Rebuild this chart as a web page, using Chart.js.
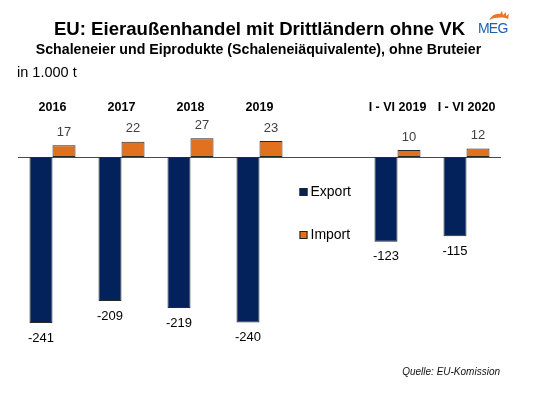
<!DOCTYPE html>
<html>
<head>
<meta charset="utf-8">
<script src="https://cdn.jsdelivr.net/npm/chart.js@4.4.1/dist/chart.umd.min.js"></script>
<style>
  html, body { margin: 0; padding: 0; background: #fff; }
  #wrap { position: relative; width: 540px; height: 398px; overflow: hidden; font-family: "Liberation Sans", Arial, sans-serif; }
  #c { position: absolute; left: 0; top: 0; }
  .t { position: absolute; white-space: nowrap; color: #000; }
  #title { left: 0; width: 519px; text-align: center; top: 18px; font-size: 18.6px; font-weight: bold; }
  #sub { left: 0; width: 517px; text-align: center; top: 41px; font-size: 14.2px; font-weight: bold; }
  #unit { left: 17px; top: 64px; font-size: 14.5px; }
  #src { right: 40px; top: 366px; font-size: 10px; font-style: italic; color: #111; }
  #logo { position: absolute; left: 477px; top: 8px; width: 40px; height: 30px; }
  #logo span { position: absolute; left: 1px; top: 12px; font-size: 14px; color: #1f5fae; font-family: "Liberation Sans", Arial, sans-serif; letter-spacing: -0.8px; }
</style>
</head>
<body>
<div id="wrap">
  <canvas id="c" width="540" height="398"></canvas>
  <div class="t" id="title">EU: Eieraußenhandel mit Drittländern ohne VK</div>
  <div class="t" id="sub">Schaleneier und Eiprodukte (Schaleneiäquivalente), ohne Bruteier</div>
  <div class="t" id="unit">in 1.000 t</div>
  <div class="t" id="src">Quelle: EU-Komission</div>
  <div id="logo">
    <svg width="40" height="14" style="position:absolute;left:0;top:0">
      <path d="M12 12 C15 7, 19 5, 23 6 L25 3 L26 7 L29 4 L29 8 L32 6 L31 11 C26 9, 19 9, 12 12 Z" fill="#e8772a"/>
    </svg>
    <span>MEG</span>
  </div>
</div>
<script>
const categories = ["2016", "2017", "2018", "2019", "", "I - VI 2019", "I - VI 2020"];
const exportValues = [-241, -209, -219, -240, null, -123, -115];
const importValues = [17, 22, 27, 23, null, 10, 12];
const seriesNames = ["Export", "Import"];
const exportColor = "#03215a";
const importColor = "#e2711f";

const zeroLine = {
  id: "zeroLine",
  beforeDatasetsDraw(chart) {
    const { ctx, chartArea, scales } = chart;
    const y = Math.round(scales.y.getPixelForValue(0)) + 0.5;
    ctx.save();
    ctx.strokeStyle = "#4a4a4a";
    ctx.lineWidth = 1;
    ctx.beginPath();
    ctx.moveTo(chartArea.left, y);
    ctx.lineTo(chartArea.right, y);
    ctx.stroke();
    ctx.restore();
  }
};

const valueLabels = {
  id: "valueLabels",
  afterDatasetsDraw(chart) {
    const { ctx } = chart;
    ctx.save();
    ctx.textAlign = "center";
    ctx.textBaseline = "middle";
    ctx.font = "13px 'Liberation Sans', Arial, sans-serif";
    chart.data.datasets.forEach((ds, di) => {
      const meta = chart.getDatasetMeta(di);
      meta.data.forEach((bar, i) => {
        const v = ds.data[i];
        if (v === null || v === undefined) return;
        if (v < 0) {
          ctx.fillStyle = "#000";
          ctx.fillText(String(v), bar.x, bar.y + 15);
        } else {
          ctx.fillStyle = "#404040";
          ctx.fillText(String(v), bar.x, bar.y - 13);
        }
      });
    });
    ctx.restore();
  }
};

const customLegend = {
  id: "customLegend",
  afterDraw(chart) {
    const { ctx } = chart;
    const x = chart.scales.x.getPixelForValue(4) - 29;
    const ys = [192, 235];
    ctx.save();
    ctx.font = "14px 'Liberation Sans', Arial, sans-serif";
    ctx.textBaseline = "middle";
    ctx.textAlign = "left";
    chart.data.datasets.forEach((ds, i) => {
      const y = ys[i];
      ctx.fillStyle = ds.backgroundColor;
      ctx.fillRect(x, y - 4, 8, 8);
      ctx.strokeStyle = "#222";
      ctx.lineWidth = 1;
      ctx.strokeRect(x + 0.5, y - 3.5, 7, 7);
      ctx.fillStyle = "#000";
      ctx.fillText(ds.label, x + 11, y + 0.5);
    });
    ctx.restore();
  }
};

new Chart(document.getElementById("c"), {
  type: "bar",
  data: {
    labels: categories,
    datasets: [
      { label: seriesNames[0], data: exportValues, backgroundColor: exportColor, borderColor: "#2a2a2a", borderWidth: 1, borderSkipped: false },
      { label: seriesNames[1], data: importValues, backgroundColor: importColor, borderColor: "#2a2a2a", borderWidth: 1, borderSkipped: false }
    ]
  },
  options: {
    responsive: false,
    animation: false,
    devicePixelRatio: 1,
    layout: { padding: { left: 18, right: 39, top: 98, bottom: 48 } },
    categoryPercentage: 0.667,
    barPercentage: 1.0,
    plugins: { legend: { display: false }, tooltip: { enabled: false }, title: { display: false } },
    scales: {
      x: {
        position: "top",
        grid: { display: false, drawTicks: false },
        border: { display: false },
        ticks: { color: "#000", padding: 0, font: { family: "'Liberation Sans', Arial, sans-serif", size: 12.5, weight: "bold" }, maxRotation: 0, autoSkip: false },
        afterFit(scale) { scale.height = 17.5; }
      },
      y: {
        display: false,
        min: -280,
        max: 60
      }
    }
  },
  plugins: [zeroLine, valueLabels, customLegend]
});
</script>
</body>
</html>
